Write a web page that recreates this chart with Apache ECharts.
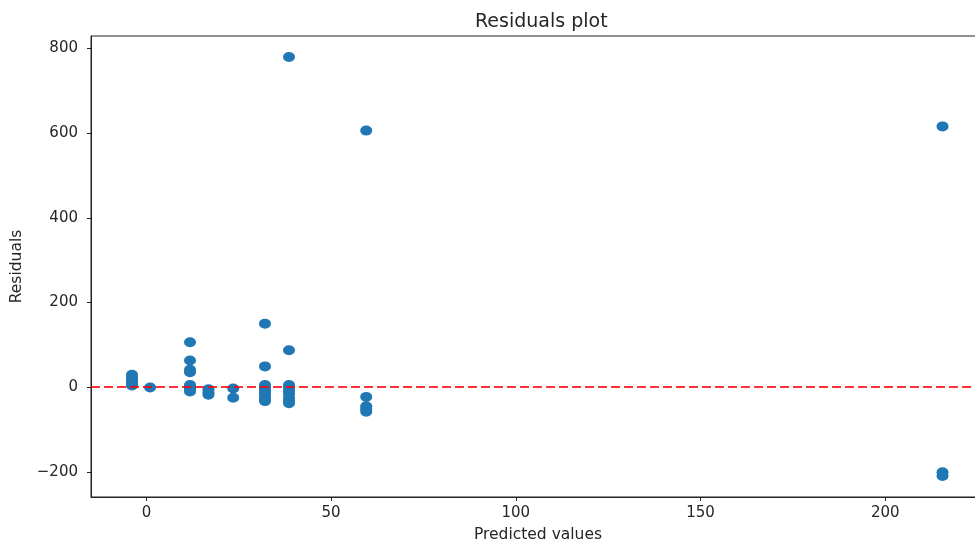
<!DOCTYPE html>
<html>
<head>
<meta charset="utf-8">
<script src="https://cdn.jsdelivr.net/npm/echarts@6/dist/echarts.min.js"></script>
<style>
html,body{margin:0;padding:0;background:#fff;overflow:hidden;}
#chart{width:975px;height:542px;}
</style>
</head>
<body>
<div id="chart"></div>
<script>
// Predicted value groups and their residuals
const predictedGroups = [-3.9, 1.0, 11.8, 16.8, 23.5, 32.1, 38.6, 59.5, 215.5];
const residualGroups = [
  [29, 23, 18, 13, 8, 4],
  [-1],
  [106, 63, 41, 35, 5, 0, -5, -10],
  [-5, -12, -18],
  [-3, -25],
  [150, 49, 5, 0, -5, -12, -20, -28, -33],
  [780, 87, 5, 0, -8, -15, -25, -32, -38],
  [606, -23, -45, -52, -58],
  [616, -201, -210]
];
const xTicks = [0, 50, 100, 150, 200];
const yTicks = [-200, 0, 200, 400, 600, 800];
const xRange = [-15, 227];
const yRange = [-259.5, 829.5];

const points = [];
predictedGroups.forEach((p, i) => residualGroups[i].forEach(r => points.push([p, r])));

const chart = echarts.init(document.getElementById('chart'));
const textColor = '#262626';
const font = 'DejaVu Sans';
chart.setOption({
  animation: false,
  title: {
    text: 'Residuals plot',
    left: 470, top: 8,
    textStyle: {fontFamily: font, fontSize: 19, fontWeight: 'normal', color: textColor}
  },
  grid: {left: 91, top: 36, width: 894, height: 461, outerBoundsMode: 'none', containLabel: false,
    show: true, borderColor: '#222', borderWidth: 1, backgroundColor: 'transparent'},
  xAxis: {
    type: 'value', min: xRange[0], max: xRange[1],
    name: 'Predicted values', nameLocation: 'middle', nameGap: 30,
    nameTextStyle: {fontFamily: font, fontSize: 15.5, color: textColor},
    axisLine: {show: true, onZero: false, lineStyle: {color: '#222', width: 1}},
    axisTick: {show: true, length: 4, customValues: xTicks, lineStyle: {color: '#222'}},
    axisLabel: {customValues: xTicks, fontFamily: font, fontSize: 15, color: textColor, margin: 9},
    splitLine: {show: false}
  },
  yAxis: {
    type: 'value', min: yRange[0], max: yRange[1],
    name: 'Residuals', nameLocation: 'middle', nameGap: 66, nameRotate: 90,
    nameTextStyle: {fontFamily: font, fontSize: 15.5, color: textColor},
    axisLine: {show: true, onZero: false, lineStyle: {color: '#222', width: 1}},
    axisTick: {show: true, length: 4, customValues: yTicks, lineStyle: {color: '#222'}},
    axisLabel: {customValues: yTicks, fontFamily: font, fontSize: 15, color: textColor, margin: 13,
      formatter: v => v < 0 ? '\u2212' + Math.abs(v) : String(v)},
    splitLine: {show: false}
  },
  series: [{
    type: 'scatter',
    data: points,
    symbol: 'circle',
    symbolSize: [12, 10],
    itemStyle: {color: '#1f77b4', opacity: 1},
    markLine: {
      silent: true, symbol: 'none',
      label: {show: false},
      lineStyle: {color: 'rgba(255,0,0,0.8)', type: [9, 4], width: 2},
      data: [{yAxis: 0}]
    },
    z: 2
  }]
});
</script>
</body>
</html>
